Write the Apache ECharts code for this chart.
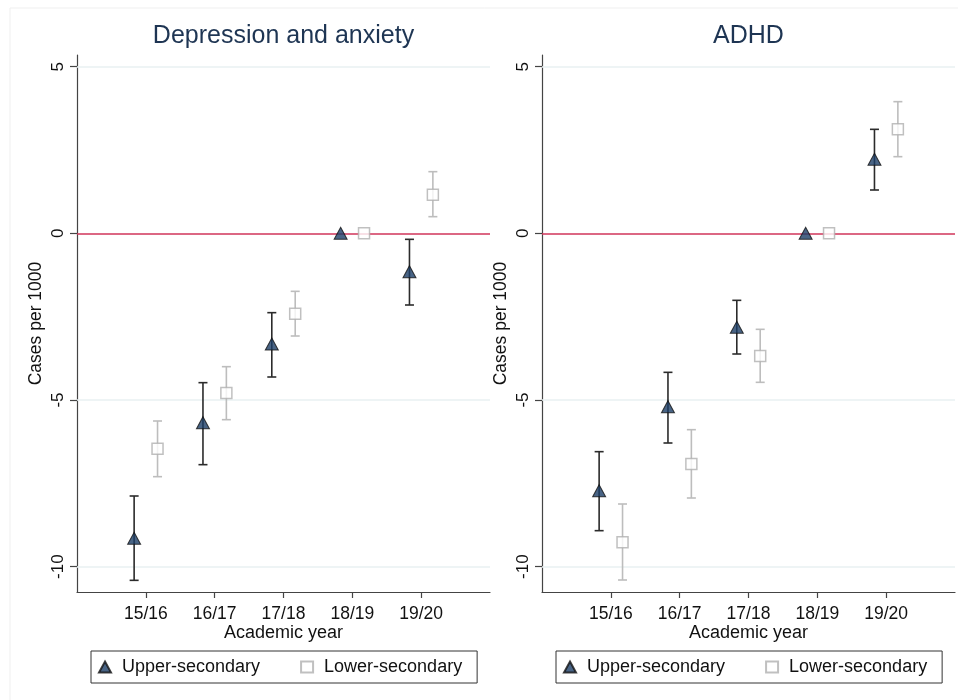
<!DOCTYPE html>
<html>
<head>
<meta charset="utf-8">
<script src="https://cdn.jsdelivr.net/npm/echarts@6/dist/echarts.min.js"></script>
<style>
  html, body { margin: 0; padding: 0; background: #fff; }
  #main { width: 958px; height: 700px; }
</style>
</head>
<body>
<div id="main"></div>
<script>
// categories and tick positions
const years = ['15/16', '16/17', '17/18', '18/19', '19/20'];
const yearPos = [1, 2, 3, 4, 5];
const yTicks = [-10, -5, 0, 5];
const gridLines = [-10, -5, 5];
const titles = ['Depression and anxiety', 'ADHD'];

// Depression and anxiety
const depUpper = [-9.15, -5.68, -3.32, 0, -1.15];
const depUpperLow = [-10.41, -6.94, -4.31, null, -2.15];
const depUpperHigh = [-7.88, -4.48, -2.38, null, -0.18];
const depLower = [-6.46, -4.79, -2.41, 0, 1.16];
const depLowerLow = [-7.30, -5.59, -3.08, null, 0.50];
const depLowerHigh = [-5.63, -4.00, -1.74, null, 1.85];

// ADHD
const adhdUpper = [-7.72, -5.20, -2.82, 0, 2.22];
const adhdUpperLow = [-8.92, -6.29, -3.62, null, 1.30];
const adhdUpperHigh = [-6.55, -4.17, -2.01, null, 3.12];
const adhdLower = [-9.27, -6.92, -3.68, 0, 3.12];
const adhdLowerLow = [-10.40, -7.94, -4.47, null, 2.30];
const adhdLowerHigh = [-8.12, -5.89, -2.88, null, 3.95];

const FONT = 'Liberation Sans, Arial, sans-serif';
const shift = 0.17; // side-by-side offset of the two groups

let chart = echarts.init(document.getElementById('main'));

const points = (vals, dx) => vals.map((v, i) => [yearPos[i] + dx, v]);
const bars = (low, high, dx) => {
	const out = [];
	low.forEach((l, i) => {
		if (l != null) out.push([yearPos[i] + dx, l, high[i]]);
	});
	return out;
};

// error bar with caps
const errorBar = (color) => (params, api) => {
	const x = api.value(0);
	const lo = api.coord([x, api.value(1)]);
	const hi = api.coord([x, api.value(2)]);
	const cap = 4.5;
	const style = { stroke: color, lineWidth: 1.6 };
	return {
		type: 'group',
		children: [
			{ type: 'line', shape: { x1: lo[0], y1: lo[1], x2: hi[0], y2: hi[1] }, style: style },
			{ type: 'line', shape: { x1: lo[0] - cap, y1: lo[1], x2: lo[0] + cap, y2: lo[1] }, style: style },
			{ type: 'line', shape: { x1: hi[0] - cap, y1: hi[1], x2: hi[0] + cap, y2: hi[1] }, style: style }
		]
	};
};

const panels = [
	{ left: 77, up: depUpper, upLo: depUpperLow, upHi: depUpperHigh, lw: depLower, lwLo: depLowerLow, lwHi: depLowerHigh },
	{ left: 542, up: adhdUpper, upLo: adhdUpperLow, upHi: adhdUpperHigh, lw: adhdLower, lwLo: adhdLowerLow, lwHi: adhdLowerHigh }
];
const plotW = 413;

let option = {
	backgroundColor: '#fff',
	animation: false,
	textStyle: { fontFamily: FONT },
	graphic: [{
		type: 'rect',
		shape: { x: 10, y: 8, width: 960, height: 700 },
		style: { fill: 'none', stroke: '#efefef', lineWidth: 1 },
		silent: true
	}],
	title: panels.map((p, i) => ({
		text: titles[i],
		left: p.left + plotW / 2,
		textAlign: 'center',
		top: 24,
		padding: 0,
		textStyle: { fontFamily: FONT, fontSize: 25, fontWeight: 'normal', color: '#1e3553' }
	})),
	legend: panels.map((p, i) => ({
		left: p.left + 14,
		top: 651,
		orient: 'horizontal',
		data: [
			{ name: 'Upper-secondary', icon: 'triangle' },
			{ name: 'Lower-secondary', icon: 'rect' }
		],
		itemWidth: 12,
		itemHeight: 11,
		itemGap: 40,
		padding: [7, 15, 7, 7],
		borderColor: '#333',
		borderWidth: 1,
		textStyle: { fontFamily: FONT, fontSize: 18, color: '#111', padding: [0, 0, 0, 6] }
	})),
	grid: panels.map((p) => ({ left: p.left, top: 55, width: plotW, height: 537 })),
	xAxis: panels.map((p, i) => ({
		type: 'value',
		gridIndex: i,
		min: 0,
		max: 6,
		name: 'Academic year',
		nameLocation: 'middle',
		nameGap: 32,
		nameMoveOverlap: false,
		nameTextStyle: { fontFamily: FONT, fontSize: 18, color: '#111' },
		axisLine: { show: true, onZero: false, lineStyle: { color: '#444', width: 1.2 } },
		axisTick: { show: true, length: 6, customValues: yearPos, lineStyle: { color: '#444', width: 1.2 } },
		axisLabel: {
			customValues: yearPos,
			margin: 13,
			fontFamily: FONT,
			fontSize: 17.5,
			color: '#111',
			formatter: (v) => years[Math.round(v) - 1] || ''
		},
		splitLine: { show: false }
	})),
	yAxis: panels.map((p, i) => ({
		type: 'value',
		gridIndex: i,
		min: -10.76,
		max: 5.35,
		name: 'Cases per 1000',
		nameLocation: 'middle',
		nameGap: 32,
		nameMoveOverlap: false,
		nameTextStyle: { fontFamily: FONT, fontSize: 17.5, color: '#111' },
		axisLine: { show: true, onZero: false, lineStyle: { color: '#444', width: 1.2 } },
		axisTick: { show: true, length: 7, customValues: yTicks, lineStyle: { color: '#444', width: 1.2 } },
		axisLabel: {
			customValues: yTicks,
			rotate: 90,
			margin: 10,
			fontFamily: FONT,
			fontSize: 17,
			color: '#111'
		},
		splitLine: { show: false }
	})),
	series: []
};

panels.forEach((p, i) => {
	option.series.push({
		name: 'ciUpper' + i,
		type: 'custom',
		xAxisIndex: i,
		yAxisIndex: i,
		renderItem: errorBar('#2b2b2b'),
		data: bars(p.upLo, p.upHi, -shift),
		z: 3,
		markLine: {
			silent: true,
			symbol: 'none',
			label: { show: false },
			z: 1,
			data: gridLines.map((g) => ({ yAxis: g, lineStyle: { color: '#e8f0f2', width: 1.5, type: 'solid' } }))
				.concat([{ yAxis: 0, lineStyle: { color: '#d0345a', width: 1.6, type: 'solid' } }])
		}
	});
	option.series.push({
		name: 'ciLower' + i,
		type: 'custom',
		xAxisIndex: i,
		yAxisIndex: i,
		renderItem: errorBar('#bdbdbd'),
		data: bars(p.lwLo, p.lwHi, shift),
		z: 3
	});
	option.series.push({
		name: 'Upper-secondary',
		type: 'scatter',
		xAxisIndex: i,
		yAxisIndex: i,
		symbol: 'triangle',
		symbolSize: [13, 12],
		itemStyle: { color: '#1b3d66', borderColor: '#111', borderWidth: 1 },
		data: points(p.up, -shift),
		z: 5
	});
	option.series.push({
		name: 'Lower-secondary',
		type: 'scatter',
		xAxisIndex: i,
		yAxisIndex: i,
		symbol: 'rect',
		symbolSize: 11,
		itemStyle: { color: '#fff', borderColor: '#b0b0b0', borderWidth: 1.5 },
		data: points(p.lw, shift),
		z: 5
	});
});

chart.setOption(option);
</script>
</body>
</html>
